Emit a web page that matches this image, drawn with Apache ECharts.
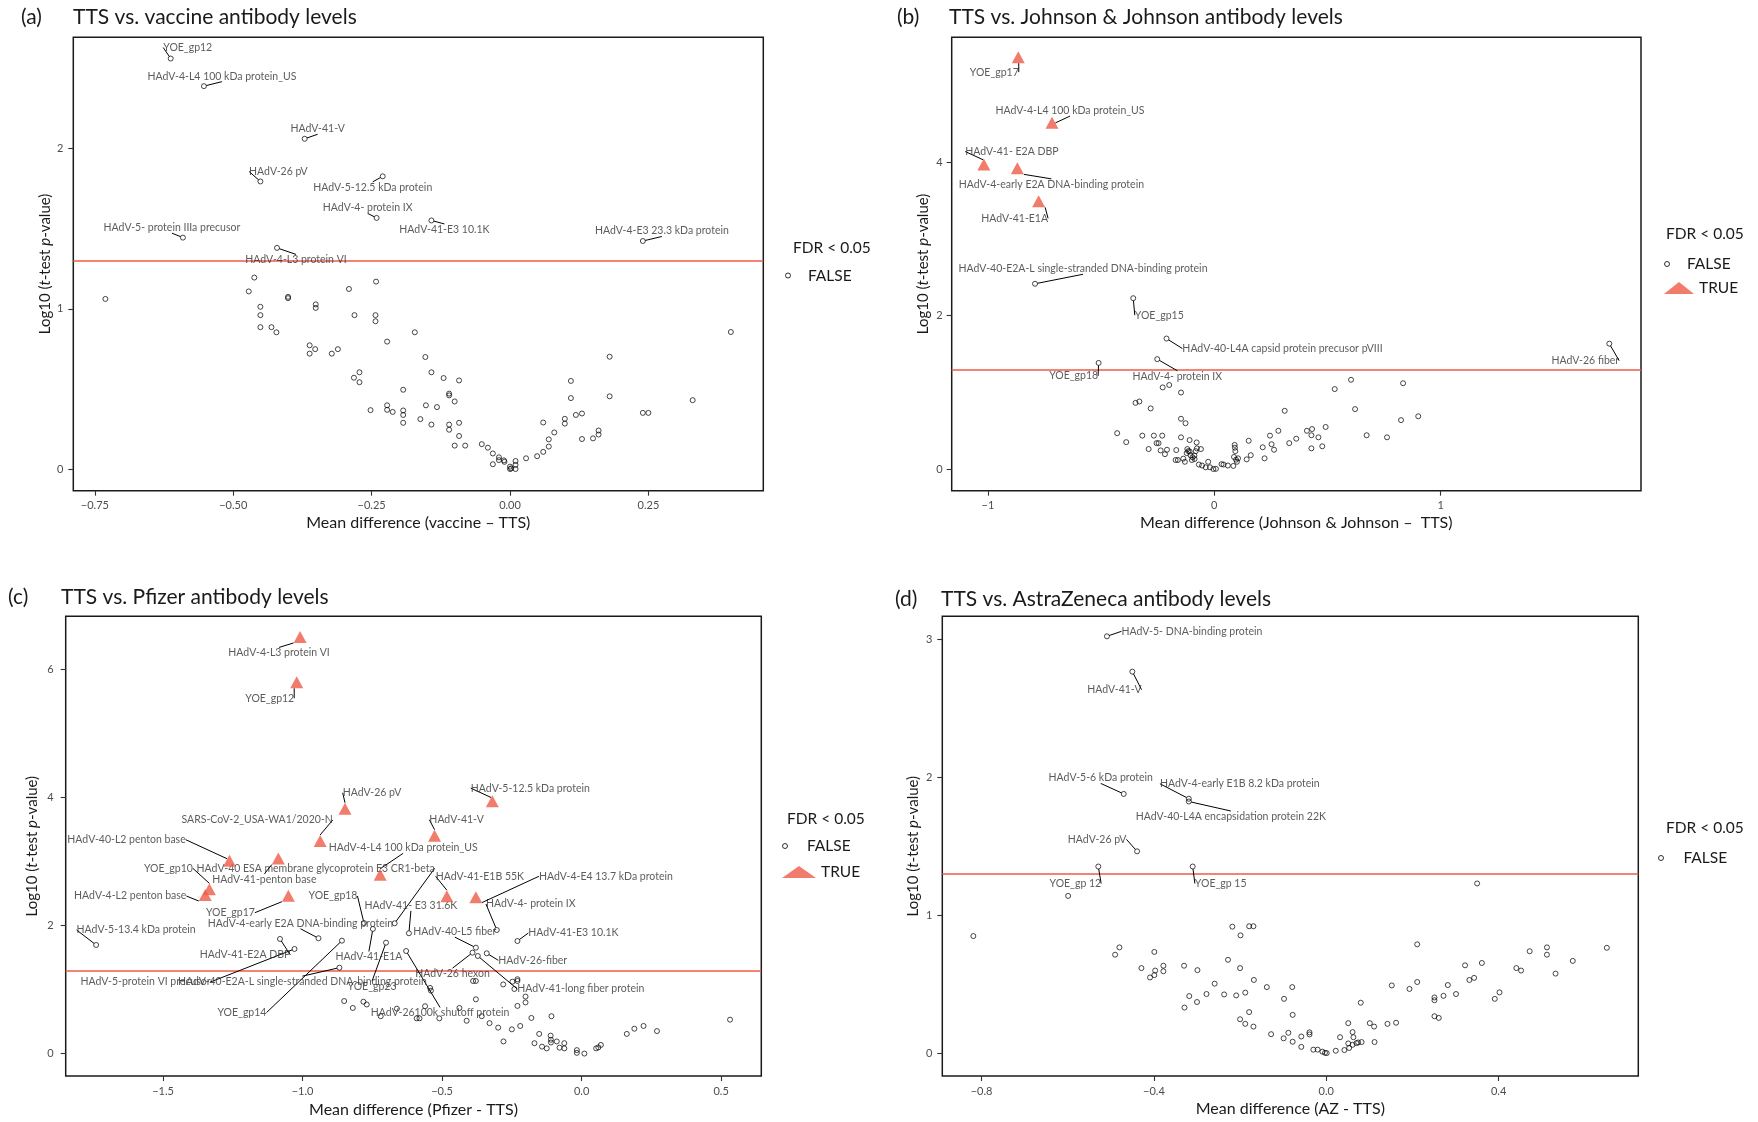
<!DOCTYPE html>
<html><head><meta charset="utf-8">
<script src="https://cdn.jsdelivr.net/npm/echarts@6/dist/echarts.min.js"></script>
<style>html,body{margin:0;padding:0;background:#fff}#c{width:1758px;height:1122px}</style>
</head><body><div id="c"></div><script>
// ---------------- DATA ----------------
const fdrThreshold = 1.30103; // -log10(0.05)

// Panel (a) vaccine
const aXTicks = [-0.75, -0.5, -0.25, 0, 0.25];
const aXLabels = ['\u22120.75', '\u22120.50', '\u22120.25', '0.00', '0.25'];
const aYTicks = [0, 1, 2];
const aYLabels = ['0', '1', '2'];
const aLabeledFalse = [
  ['YOE_gp12', -0.613, 2.56], ['HAdV-4-L4 100 kDa protein_US', -0.553, 2.388], ['HAdV-41-V', -0.371, 2.06],
  ['HAdV-26 pV', -0.451, 1.794], ['HAdV-5-12.5 kDa protein', -0.23, 1.826], ['HAdV-4- protein IX', -0.241, 1.567],
  ['HAdV-41-E3 10.1K', -0.142, 1.551], ['HAdV-5- protein IIIa precusor', -0.591, 1.444],
  ['HAdV-4-L3 protein VI', -0.421, 1.38], ['HAdV-4-E3 23.3 kDa protein', 0.24, 1.423]
];
const aUnlabeled = [[-0.731,1.062],[-0.462,1.195],[-0.472,1.109],[-0.451,1.013],[-0.451,0.961],[-0.451,0.886],[-0.431,0.886],[-0.422,0.854],[-0.401,1.067],[-0.401,1.075],[-0.351,1.028],[-0.351,1.006],[-0.362,0.773],[-0.362,0.721],[-0.352,0.749],[-0.322,0.721],[-0.311,0.749],[-0.291,1.124],[-0.281,0.961],[-0.242,1.17],[-0.243,0.961],[-0.243,0.923],[-0.282,0.571],[-0.272,0.605],[-0.272,0.543],[-0.172,0.854],[-0.222,0.796],[-0.153,0.7],[-0.142,0.605],[-0.193,0.496],[-0.252,0.369],[-0.222,0.399],[-0.222,0.371],[-0.212,0.358],[-0.193,0.367],[-0.193,0.339],[-0.193,0.29],[-0.162,0.313],[-0.152,0.399],[-0.142,0.279],[-0.132,0.388],[-0.12,0.569],[-0.092,0.554],[-0.11,0.472],[-0.11,0.461],[-0.1,0.423],[-0.11,0.279],[-0.11,0.247],[-0.092,0.29],[-0.092,0.208],[-0.1,0.148],[-0.081,0.148],[-0.051,0.157],[-0.04,0.135],[-0.031,0.099],[-0.031,0.032],[-0.02,0.075],[-0.02,0.058],[-0.011,0.056],[-0.01,0.047],[0,0.017],[0,0.002],[0.002,0.006],[0.01,0.052],[0.01,0.028],[0.01,0.002],[0.029,0.069],[0.049,0.082],[0.06,0.109],[0.07,0.142],[0.07,0.187],[0.08,0.23],[0.06,0.292],[0.099,0.315],[0.099,0.285],[0.11,0.551],[0.11,0.444],[0.119,0.339],[0.13,0.348],[0.13,0.189],[0.15,0.193],[0.16,0.242],[0.16,0.217],[0.18,0.702],[0.18,0.455],[0.24,0.352],[0.25,0.352],[0.33,0.431],[0.399,0.856]];

// Panel (b) Johnson & Johnson
const bXTicks = [-1, 0, 1];
const bXLabels = ['\u22121', '0', '1'];
const bYTicks = [0, 2, 4];
const bYLabels = ['0', '2', '4'];
const bLabeledTrue = [
  ['YOE_gp17', -0.866, 5.37], ['HAdV-4-L4 100 kDa protein_US', -0.717, 4.516], ['HAdV-41- E2A DBP', -1.018, 3.97],
  ['HAdV-4-early E2A DNA-binding protein', -0.87, 3.92], ['HAdV-41-E1A', -0.776, 3.49]
];
const bLabeledFalse = [
  ['HAdV-40-E2A-L single-stranded DNA-binding protein', -0.792, 2.415], ['YOE_gp15', -0.358, 2.227],
  ['HAdV-40-L4A capsid protein precusor pVIII', -0.211, 1.701], ['YOE_gp18', -0.511, 1.383],
  ['HAdV-4- protein IX', -0.252, 1.432], ['HAdV-26 fiber', 1.745, 1.634]
];
const bUnlabeled = [[-0.228,1.064],[-0.199,1.095],[-0.147,0.997],[-0.348,0.862],[-0.331,0.88],[-0.281,0.79],[-0.147,0.655],[-0.127,0.597],[-0.429,0.467],[-0.389,0.35],[-0.318,0.435],[-0.267,0.435],[-0.23,0.435],[-0.255,0.337],[-0.246,0.337],[-0.29,0.26],[-0.237,0.242],[-0.218,0.193],[-0.209,0.251],[-0.147,0.413],[-0.109,0.377],[-0.078,0.346],[-0.168,0.247],[-0.171,0.117],[-0.161,0.117],[-0.137,0.135],[-0.13,0.094],[-0.119,0.26],[-0.115,0.233],[-0.109,0.229],[-0.105,0.18],[-0.096,0.153],[-0.088,0.175],[-0.082,0.233],[-0.077,0.269],[-0.059,0.26],[-0.099,0.117],[-0.087,0.13],[-0.122,0.207],[-0.068,0.058],[-0.054,0.045],[-0.038,0.022],[-0.027,0.094],[-0.019,0.022],[-0.004,0],[0.007,0.002],[0.032,0.063],[0.041,0.058],[0.06,0.045],[0.084,0.04],[0.09,0.314],[0.091,0.278],[0.093,0.233],[0.087,0.157],[0.096,0.121],[0.105,0.139],[0.1,0.094],[0.143,0.126],[0.161,0.18],[0.152,0.368],[0.214,0.283],[0.222,0.139],[0.246,0.435],[0.253,0.323],[0.264,0.251],[0.283,0.498],[0.311,0.759],[0.331,0.337],[0.362,0.395],[0.409,0.498],[0.432,0.521],[0.429,0.44],[0.429,0.269],[0.46,0.413],[0.477,0.296],[0.492,0.548],[0.532,1.042],[0.604,1.163],[0.622,0.781],[0.673,0.44],[0.763,0.413],[0.825,0.637],[0.834,1.118],[0.901,0.687]];

// Panel (c) Pfizer
const cXTicks = [-1.5, -1, -0.5, 0, 0.5];
const cXLabels = ['\u22121.5', '\u22121.0', '\u22120.5', '0.0', '0.5'];
const cYTicks = [0, 2, 4, 6];
const cYLabels = ['0', '2', '4', '6'];
const cLabeledTrue = [
  ['HAdV-4-L3 protein VI', -1.009, 6.503], ['YOE_gp12', -1.021, 5.796], ['HAdV-5-12.5 kDa protein', -0.32, 3.94],
  ['HAdV-26 pV', -0.848, 3.821], ['HAdV-41-V', -0.527, 3.40], ['SARS-CoV-2_USA-WA1/2020-N', -0.937, 3.319],
  ['HAdV-41-penton base', -1.087, 3.044], ['HAdV-40-L2 penton base', -1.262, 3.011],
  ['HAdV-4-L4 100 kDa protein_US', -0.722, 2.79], ['YOE_gp10', -1.334, 2.563], ['HAdV-4-L2 penton base', -1.349, 2.475],
  ['YOE_gp17', -1.051, 2.464], ['HAdV-41-E1B 55K', -0.483, 2.456], ['HAdV-4-E4 13.7 kDa protein', -0.379, 2.439]
];
const cLabeledFalse = [
  ['HAdV-40 ESA membrane glycoprotein E3 CR1-beta', -0.67, 2.034], ['YOE_gp18', -0.78, 2.038],
  ['HAdV-4- protein IX', -0.304, 1.929], ['HAdV-41-E1A', -0.748, 1.945], ['HAdV-41- E3 31.6K', -0.619, 1.878],
  ['HAdV-4-early E2A DNA-binding protein', -0.943, 1.8], ['HAdV-41-E2A DBP', -1.081, 1.789], ['YOE_gp14', -0.859, 1.762],
  ['HAdV-41-E3 10.1K', -0.23, 1.757], ['YOE_gp23', -0.701, 1.731], ['HAdV-5-13.4 kDa protein', -1.74, 1.695],
  ['HAdV-40-L5 fiber', -0.379, 1.653], ['HAdV-5-protein VI precusor', -1.029, 1.633],
  ['HAdV-26100k shutoff protein', -0.629, 1.601], ['HAdV-26 hexon', -0.391, 1.575], ['HAdV-26-fiber', -0.34, 1.565],
  ['HAdV-41-long fiber protein', -0.372, 1.523], ['HAdV-40-E2A-L single-stranded DNA-binding protein', -0.868, 1.341]
];
const cUnlabeled = [[-0.851,0.82],[-0.82,0.712],[-0.782,0.809],[-0.77,0.766],[-0.72,0.583],[-0.662,0.701],[-0.591,0.55],[-0.581,0.55],[-0.561,0.739],[-0.543,1.025],[-0.54,0.982],[-0.51,0.55],[-0.438,0.712],[-0.412,0.512],[-0.389,1.133],[-0.379,1.133],[-0.379,0.847],[-0.358,0.583],[-0.33,0.475],[-0.299,0.405],[-0.28,0.189],[-0.281,1.079],[-0.25,0.378],[-0.248,1.122],[-0.23,1.16],[-0.23,1.133],[-0.23,0.744],[-0.22,0.431],[-0.201,0.798],[-0.201,0.89],[-0.18,0.556],[-0.152,0.307],[-0.169,0.162],[-0.142,0.108],[-0.125,0.081],[-0.111,0.28],[-0.11,0.216],[-0.11,0.173],[-0.108,0.583],[-0.089,0.189],[-0.079,0.092],[-0.062,0.162],[-0.062,0.081],[-0.017,0.054],[-0.017,0.011],[0.01,0.0],[0.052,0.081],[0.06,0.097],[0.069,0.135],[0.162,0.307],[0.189,0.388],[0.222,0.431],[0.27,0.351],[0.532,0.529],[-0.241,1.008]];

// Panel (d) AstraZeneca
const dXTicks = [-0.8, -0.4, 0, 0.4];
const dXLabels = ['\u22120.8', '\u22120.4', '0.0', '0.4'];
const dYTicks = [0, 1, 2, 3];
const dYLabels = ['0', '1', '2', '3'];
const dLabeledFalse = [
  ['HAdV-5- DNA-binding protein', -0.509, 3.023], ['HAdV-41-V', -0.45, 2.767], ['HAdV-5-6 kDa protein', -0.47, 1.881],
  ['HAdV-4-early E1B 8.2 kDa protein', -0.319, 1.846], ['HAdV-40-L4A encapsidation protein 22K', -0.319, 1.826],
  ['HAdV-26 pV', -0.439, 1.465], ['YOE_gp 12', -0.529, 1.355], ['YOE_gp 15', -0.31, 1.355]
];
const dUnlabeled = [[-0.599,1.142],[-0.819,0.851],[-0.49,0.716],[-0.48,0.769],[-0.399,0.736],[-0.429,0.619],[-0.409,0.551],[-0.399,0.568],[-0.397,0.601],[-0.378,0.636],[-0.378,0.596],[-0.33,0.636],[-0.299,0.604],[-0.329,0.333],[-0.318,0.416],[-0.3,0.373],[-0.278,0.431],[-0.259,0.506],[-0.237,0.428],[-0.228,0.679],[-0.218,0.919],[-0.209,0.421],[-0.199,0.856],[-0.2,0.619],[-0.188,0.441],[-0.179,0.922],[-0.169,0.922],[-0.168,0.533],[-0.2,0.248],[-0.188,0.215],[-0.179,0.3],[-0.169,0.195],[-0.138,0.481],[-0.128,0.14],[-0.098,0.396],[-0.099,0.11],[-0.088,0.15],[-0.079,0.481],[-0.078,0.28],[-0.078,0.085],[-0.058,0.123],[-0.058,0.048],[-0.039,0.153],[-0.039,0.138],[-0.03,0.028],[-0.02,0.028],[-0.009,0.013],[-0.003,0.005],[0.001,0.003],[0.022,0.02],[0.032,0.118],[0.042,0.025],[0.051,0.22],[0.051,0.073],[0.053,0.04],[0.061,0.155],[0.063,0.118],[0.061,0.063],[0.07,0.075],[0.074,0.08],[0.082,0.083],[0.08,0.368],[0.101,0.22],[0.111,0.195],[0.112,0.083],[0.142,0.215],[0.152,0.493],[0.162,0.223],[0.193,0.468],[0.211,0.791],[0.211,0.518],[0.251,0.406],[0.251,0.386],[0.251,0.27],[0.261,0.258],[0.272,0.418],[0.282,0.496],[0.301,0.431],[0.322,0.639],[0.332,0.533],[0.343,0.548],[0.35,1.232],[0.361,0.656],[0.391,0.396],[0.402,0.443],[0.441,0.619],[0.452,0.601],[0.472,0.741],[0.512,0.769],[0.512,0.716],[0.532,0.579],[0.572,0.671],[0.651,0.766]];

// ---------------- LABEL PLACEMENT (pixel offsets of label centre from point) ----------------
const aLabelOffsets = {'YOE_gp12':[17,-11],'HAdV-4-L4 100 kDa protein_US':[18,-10],'HAdV-41-V':[13,-10],'HAdV-26 pV':[18,-10],'HAdV-5-12.5 kDa protein':[-10,11],'HAdV-4- protein IX':[-9,-10],'HAdV-41-E3 10.1K':[13,9],'HAdV-5- protein IIIa precusor':[-11,-10],'HAdV-4-L3 protein VI':[19,12],'HAdV-4-E3 23.3 kDa protein':[19,-10]};
const bLabelOffsets = {'YOE_gp17':[-24,15],'HAdV-4-L4 100 kDa protein_US':[18,-12],'HAdV-41- E2A DBP':[28,-13],'HAdV-4-early E2A DNA-binding protein':[34,16],'HAdV-41-E1A':[-24,17],'HAdV-40-E2A-L single-stranded DNA-binding protein':[48,-15],'YOE_gp15':[26,17],'HAdV-40-L4A capsid protein precusor pVIII':[116,10],'YOE_gp18':[-25,13],'HAdV-4- protein IX':[20,17],'HAdV-26 fiber':[-24,17]};
const cLabelOffsets = {'HAdV-4-L3 protein VI':[-21,16],'YOE_gp12':[-27,16],'SARS-CoV-2_USA-WA1/2020-N':[-63,-21],'HAdV-40-L2 penton base':[-103,-21],'HAdV-41-penton base':[-14,21],'YOE_gp10':[-41,-21],'HAdV-40 ESA membrane glycoprotein E3 CR1-beta':[-79,-55],'HAdV-4-L2 penton base':[-75,1],'YOE_gp17':[-58,17],'HAdV-26 pV':[27,-16],'HAdV-5-12.5 kDa protein':[38,-13],'HAdV-41-V':[22,-16],'HAdV-4-L4 100 kDa protein_US':[23,-27],'HAdV-41-E1B 55K':[33,-20],'HAdV-4-E4 13.7 kDa protein':[130,-21],'HAdV-4- protein IX':[34,-26],'HAdV-41-E3 10.1K':[56,-8],'HAdV-40-L5 fiber':[-21,-16],'HAdV-41- E3 31.6K':[2,-28],'YOE_gp18':[-31,-27],'HAdV-41-E1A':[-4,28],'HAdV-26-fiber':[46,7],'HAdV-26 hexon':[-20,21],'HAdV-41-long fiber protein':[103,33],'HAdV-26100k shutoff protein':[34,62],'YOE_gp23':[-14,44],'HAdV-5-13.4 kDa protein':[40,-15],'HAdV-4-early E2A DNA-binding protein':[-18,-15],'HAdV-41-E2A DBP':[-35,16],'HAdV-5-protein VI precusor':[-149,33],'HAdV-40-E2A-L single-stranded DNA-binding protein':[-37,14],'YOE_gp14':[-100,72]};
const dLabelOffsets = {'HAdV-5- DNA-binding protein':[85,-5],'HAdV-41-V':[-18,18],'HAdV-5-6 kDa protein':[-23,-16],'HAdV-4-early E1B 8.2 kDa protein':[51,-15],'HAdV-40-L4A encapsidation protein 22K':[42,15],'HAdV-26 pV':[-40,-12],'YOE_gp 12':[-23,17],'YOE_gp 15':[28,17]};

// ---------------- LAYOUT ----------------
const RED = '#ee5b47';
const FONT = 'Lato';
const panels = [
  {tag:'(a)', title:'TTS vs. vaccine antibody levels', tagX:21, titleX:73, titleY:17,
   grid:{left:73.3, top:37.2, width:690, height:453.5}, xMin:-0.789, xMax:0.4576, yMin:-0.133, yMax:2.693,
   xTicks:aXTicks, xLabels:aXLabels, yTicks:aYTicks, yLabels:aYLabels,
   xName:'Mean difference (vaccine \u2013 TTS)', xNameGap:24, yNameGap:21, xLabMargin:9, yLabMargin:10,
   unl:aUnlabeled, labF:aLabeledFalse, labT:null, off:aLabelOffsets,
   leg:{titleX:793, titleY:248, falseLeft:785, falseTop:266.5, trueTop:null, w:30}},
  {tag:'(b)', title:'TTS vs. Johnson & Johnson antibody levels', tagX:897, titleX:949, titleY:17,
   grid:{left:951.7, top:37.2, width:689.3, height:453.5}, xMin:-1.16, xMax:1.885, yMin:-0.283, yMax:5.63,
   xTicks:bXTicks, xLabels:bXLabels, yTicks:bYTicks, yLabels:bYLabels,
   xName:'Mean difference (Johnson & Johnson \u2013  TTS)', xNameGap:24, yNameGap:21, xLabMargin:9, yLabMargin:9,
   unl:bUnlabeled, labF:bLabeledFalse, labT:bLabeledTrue, off:bLabelOffsets,
   leg:{titleX:1666, titleY:234, falseLeft:1664, falseTop:255, trueTop:279, w:30}},
  {tag:'(c)', title:'TTS vs. Pfizer antibody levels', tagX:8, titleX:61, titleY:597,
   grid:{left:65.7, top:616.3, width:695.6, height:459.7}, xMin:-1.849, xMax:0.644, yMin:-0.35, yMax:6.825,
   xTicks:cXTicks, xLabels:cXLabels, yTicks:cYTicks, yLabels:cYLabels,
   xName:'Mean difference (Pfizer - TTS)', xNameGap:26, yNameGap:26, xLabMargin:10, yLabMargin:12,
   unl:cUnlabeled, labF:cLabeledFalse, labT:cLabeledTrue, off:cLabelOffsets,
   leg:{titleX:787, titleY:818.5, falseLeft:782, falseTop:837, trueTop:863, w:34}},
  {tag:'(d)', title:'TTS vs. AstraZeneca antibody levels', tagX:895, titleX:941, titleY:599,
   grid:{left:942.3, top:616.3, width:696, height:459.7}, xMin:-0.891, xMax:0.724, yMin:-0.163, yMax:3.168,
   xTicks:dXTicks, xLabels:dXLabels, yTicks:dYTicks, yLabels:dYLabels,
   xName:'Mean difference (AZ - TTS)', xNameGap:25, yNameGap:22, xLabMargin:10, yLabMargin:10,
   unl:dUnlabeled, labF:dLabeledFalse, labT:null, off:dLabelOffsets,
   leg:{titleX:1666, titleY:828, falseLeft:1658, falseTop:849, trueTop:null, w:35}}
];

function lookup(ticks, labels, v) {
  for (let i = 0; i < ticks.length; i++) if (Math.abs(ticks[i] - v) < 1e-9) return labels[i];
  return '';
}

const grids = [], xAxes = [], yAxes = [], series = [], legends = [], graphics = [];
const seriesOffsets = [];
const tickStyle = {show:true, length:5, inside:false, lineStyle:{color:'#333', width:1.1}};
const labStyle = {fontSize:11, color:'#4d4d4d', fontFamily:FONT};
const nameStyle = {fontSize:16, color:'#1a1a1a', fontFamily:FONT};

panels.forEach((p, i) => {
  grids.push(Object.assign({show:true, borderColor:'#1a1a1a', borderWidth:1.5, backgroundColor:'transparent'}, p.grid));
  xAxes.push({type:'value', gridIndex:i, min:p.xMin, max:p.xMax, splitLine:{show:false}, position:'bottom',
    axisLine:{show:false, onZero:false}, axisTick:Object.assign({customValues:p.xTicks}, tickStyle),
    axisLabel:Object.assign({customValues:p.xTicks, margin:p.xLabMargin, formatter:v => lookup(p.xTicks, p.xLabels, v)}, labStyle),
    name:p.xName, nameLocation:'middle', nameGap:p.xNameGap, nameTextStyle:nameStyle});
  yAxes.push({type:'value', gridIndex:i, min:p.yMin, max:p.yMax, splitLine:{show:false}, position:'left',
    axisLine:{show:false, onZero:false}, axisTick:Object.assign({customValues:p.yTicks}, tickStyle),
    axisLabel:Object.assign({customValues:p.yTicks, margin:p.yLabMargin, formatter:v => lookup(p.yTicks, p.yLabels, v)}, labStyle),
    name:'{n|Log10 (}{i|t}{n|-test }{i|p}{n|-value)}', nameLocation:'middle', nameGap:p.yNameGap,
    nameTextStyle:{rich:{n:{fontSize:15, color:'#1a1a1a', fontFamily:FONT}, i:{fontSize:15, color:'#1a1a1a', fontFamily:FONT, fontStyle:'italic'}}}});

  // FALSE series
  const fData = [], fOff = [];
  p.unl.forEach(v => { fData.push({value:v}); fOff.push(null); });
  p.labF.forEach(r => { fData.push({name:r[0], value:[r[1], r[2]], label:{show:true}, labelLine:{show:true}}); fOff.push(p.off[r[0]] || [0,-10]); });
  seriesOffsets.push(fOff);
  series.push({type:'scatter', name:'FALSE', xAxisIndex:i, yAxisIndex:i, symbol:'circle', symbolSize:5,
    itemStyle:{color:'rgba(0,0,0,0)', borderColor:'#000', borderWidth:0.9},
    label:{show:false, formatter:'{b}', fontSize:10.5, color:'#333', fontFamily:FONT},
    labelLine:{show:false, lineStyle:{color:'#000', width:1}},
    labelLayout:params => layoutLabel(params), data:fData, z:3,
    markLine:{silent:true, symbol:['none','none'], label:{show:false}, lineStyle:{color:RED, width:1.6, type:'solid'}, data:[{yAxis:fdrThreshold}], z:1}});
  if (p.labT) {
    const tData = [], tOff = [];
    p.labT.forEach(r => { tData.push({name:r[0], value:[r[1], r[2]], label:{show:true}, labelLine:{show:true}}); tOff.push(p.off[r[0]] || [0,-10]); });
    seriesOffsets.push(tOff);
    series.push({type:'scatter', name:'TRUE', xAxisIndex:i, yAxisIndex:i, symbol:'triangle', symbolSize:[13,12],
      itemStyle:{color:RED},
      label:{show:false, formatter:'{b}', fontSize:10.5, color:'#333', fontFamily:FONT},
      labelLine:{show:false, lineStyle:{color:'#000', width:1}},
      labelLayout:params => layoutLabel(params), data:tData, z:4});
  }

  // titles
  graphics.push({type:'text', x:p.tagX, y:p.titleY, style:{text:p.tag, fontSize:21, fontFamily:FONT, fill:'#1a1a1a', verticalAlign:'middle'}});
  graphics.push({type:'text', x:p.titleX, y:p.titleY, style:{text:p.title, fontSize:21, fontFamily:FONT, fill:'#1a1a1a', verticalAlign:'middle'}});
  graphics.push({type:'text', x:p.leg.titleX, y:p.leg.titleY, style:{text:'FDR < 0.05', fontSize:15.5, fontFamily:FONT, fill:'#1a1a1a', verticalAlign:'middle'}});

  legends.push({left:p.leg.falseLeft, top:p.leg.falseTop, orient:'vertical', padding:0, itemGap:0, selectedMode:false,
    itemWidth:p.leg.w, itemHeight:5,
    data:[{name:'FALSE', icon:'circle', itemStyle:{color:'rgba(0,0,0,0)', borderColor:'#000', borderWidth:1}}],
    textStyle:{fontSize:15.5, color:'#1a1a1a', fontFamily:FONT, lineHeight:18}});
  if (p.leg.trueTop !== null) {
    legends.push({left:p.leg.falseLeft, top:p.leg.trueTop, orient:'vertical', padding:0, itemGap:0, selectedMode:false,
      itemWidth:p.leg.w, itemHeight:12,
      data:[{name:'TRUE', icon:'triangle', itemStyle:{color:RED}}],
      textStyle:{fontSize:15.5, color:'#1a1a1a', fontFamily:FONT, lineHeight:18}});
  }
});

function layoutLabel(params) {
  const offs = seriesOffsets[params.seriesIndex];
  const off = offs && offs[params.dataIndex];
  if (!off) return {};
  const r = params.rect;
  return {x: r.x + r.width / 2 + off[0], y: r.y + r.height / 2 + off[1], align:'center', verticalAlign:'middle'};
}

const chart = echarts.init(document.getElementById('c'), null, {renderer:'canvas'});
chart.setOption({
  animation:false, backgroundColor:'#fff', textStyle:{fontFamily:FONT},
  grid:grids, xAxis:xAxes, yAxis:yAxes, series:series, legend:legends, graphic:graphics
});
</script></body></html>
